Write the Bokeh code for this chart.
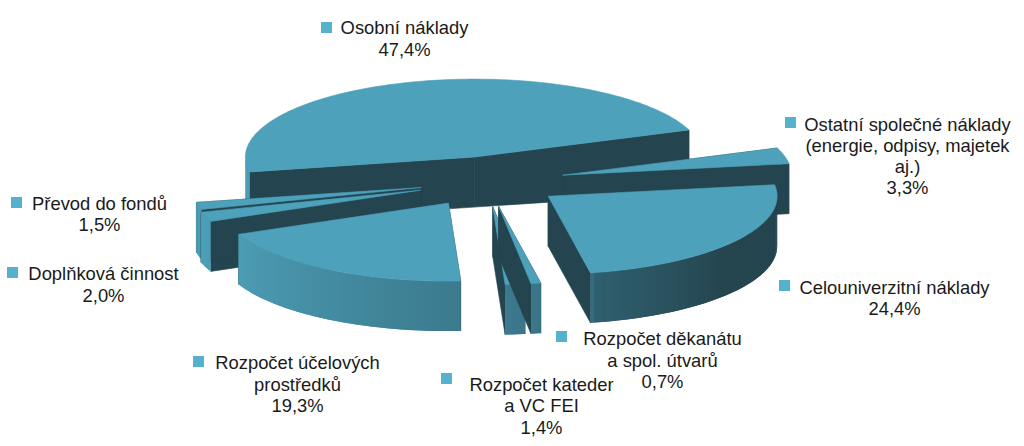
import numpy as np
from bokeh.plotting import figure
from bokeh.models import Range1d, ColumnDataSource
from bokeh.core.properties import value
from bokeh.embed import file_html
from bokeh.resources import INLINE

# ---- data, clockwise from the Osobní slice ----
categories = ["Osobní náklady", "Ostatní společné náklady", "Celouniverzitní náklady",
              "Rozpočet děkanátu", "Rozpočet kateder", "Rozpočet účelových prostředků",
              "Doplňková činnost", "Převod do fondů"]
shares = [47.4, 3.3, 24.4, 0.7, 1.4, 19.3, 2.0, 1.5]
label_lines = [
    ["Osobní náklady", "47,4%"],
    ["Ostatní společné náklady", "(energie, odpisy, majetek", "aj.)", "3,3%"],
    ["Celouniverzitní náklady", "24,4%"],
    ["Rozpočet děkanátu", "a spol. útvarů", "0,7%"],
    ["Rozpočet kateder", "a VC FEI", "1,4%"],
    ["Rozpočet účelových", "prostředků", "19,3%"],
    ["Doplňková činnost", "2,0%"],
    ["Převod do fondů", "1,5%"],
]

# ---- layout (screen pixels) ----
CX, CY = 490.0, 181.0
RX, RY = 229.0, 78.0
EXPLODE = 0.325
H = 50.0
START = -101.0
BACK_EXTRA = {0: 13.0}                  # the Osobní cut face is taller at its rim
NUDGE_X = {0: 4.0, 2: -3.0, 3: -4.0, 4: -5.0, 5: -3.0, 7: 3.0}   # small per-slice placement corrections
DRAW_ORDER = [0, 7, 6, 1, 2, 5, 4, 3]   # painter's order, back to front
TOP = "#4da1bb"
DARK = "#24444f"
SQUARE = "#55b2cc"
SHADE_T = [-110, 81, 130, 168, 169.5, 177, 200, 246, 262]
SHADE_C = ["#4da0b9", "#24444f", "#25454f", "#2f5f6e", "#3a7488", "#3c7a8e", "#41869b", "#4c9db5", "#4da0b9"]
# label anchor: centre x, y of first line, line spacings, legend square x, y
label_pos = [
    (404, 27, [22], 326, 27),
    (907, 124, [21, 21, 21], 790, 122),
    (894, 287, [21], 784, 285),
    (662, 338, [22, 21], 561, 336),
    (541, 384, [21, 22], 446, 378),
    (297, 362, [22, 21], 198, 361),
    (103, 273, [22], 12, 272),
    (99, 203, [21], 16, 202),
]


def rgb(h):
    return np.array([int(h[i:i + 2], 16) for i in (1, 3, 5)], float)


def shade(t):
    t = ((t + 110) % 360) - 110
    vals = [np.interp(t, SHADE_T, [rgb(c)[k] for c in SHADE_C]) for k in range(3)]
    return "#%02x%02x%02x" % tuple(int(round(v)) for v in vals)


edges = START + np.cumsum([0.0] + shares) * 3.6
xs, ys, colors, widths = [], [], [], []


def add(x, y, c, w=0.6):
    xs.append(list(x))
    ys.append(list(y))
    colors.append(c)
    widths.append(w)


for i in DRAW_ORDER:
    t0, t1 = edges[i], edges[i + 1]
    mid = np.radians((t0 + t1) / 2)
    ax = CX + EXPLODE * RX * np.sin(mid) + NUDGE_X.get(i, 0.0)
    ay = CY - EXPLODE * RY * np.cos(mid)
    ts = np.linspace(t0, t1, max(3, int(t1 - t0) + 2))
    rim_x = ax + RX * np.sin(np.radians(ts))
    rim_y = ay - RY * np.cos(np.radians(ts))
    extra = BACK_EXTRA.get(i, 0.0)
    # cut faces
    add([ax, rim_x[0], rim_x[0], ax], [ay, rim_y[0], rim_y[0] + H, ay + H], DARK)
    add([ax, rim_x[-1], rim_x[-1], ax], [ay, rim_y[-1], rim_y[-1] + H + extra, ay + H], DARK)
    # outer wall, front part only: each step overlaps the next one, so no seams show
    for j in range(len(ts) - 1):
        k = min(j + 2, len(ts) - 1)
        if np.cos(np.radians(ts[j])) > 0 and np.cos(np.radians(ts[k])) > 0:
            continue
        # never reach past the widest point of the ellipse into the back half
        if np.cos(np.radians(ts[k])) > 0:
            k = j + 1
        add([rim_x[j], rim_x[k], rim_x[k], rim_x[j]],
            [rim_y[j], rim_y[k], rim_y[k] + H, rim_y[j] + H],
            shade((ts[j] + ts[j + 1]) / 2), 0)
    # top face
    add([ax] + list(rim_x), [ay] + list(rim_y), TOP)

p = figure(width=1024, height=446, output_backend="svg", toolbar_location=None,
           x_range=Range1d(0, 1024), y_range=Range1d(446, 0), min_border=0)
p.axis.visible = False
p.grid.visible = False
p.outline_line_color = None
p.background_fill_color = "white"

src = ColumnDataSource(dict(xs=xs, ys=ys, color=colors, w=widths))
p.patches("xs", "ys", source=src, fill_color="color", line_color="color", line_width="w")

tx, ty, tt, sx, sy = [], [], [], [], []
for lines, (cx, y0, gaps, qx, qy) in zip(label_lines, label_pos):
    y = y0
    for k, line in enumerate(lines):
        tx.append(cx)
        ty.append(y)
        tt.append(line)
        if k < len(gaps):
            y += gaps[k]
    sx.append(qx)
    sy.append(qy)

p.scatter(sx, sy, marker="square", size=11, fill_color=SQUARE, line_color=None)
p.text(tx, ty, text=tt, text_align="center", text_baseline="middle",
       text_font=value("Liberation Sans"), text_font_size="18.4px", text_color="#1a1a1a")

open("out.html", "w").write(file_html(p, INLINE))
